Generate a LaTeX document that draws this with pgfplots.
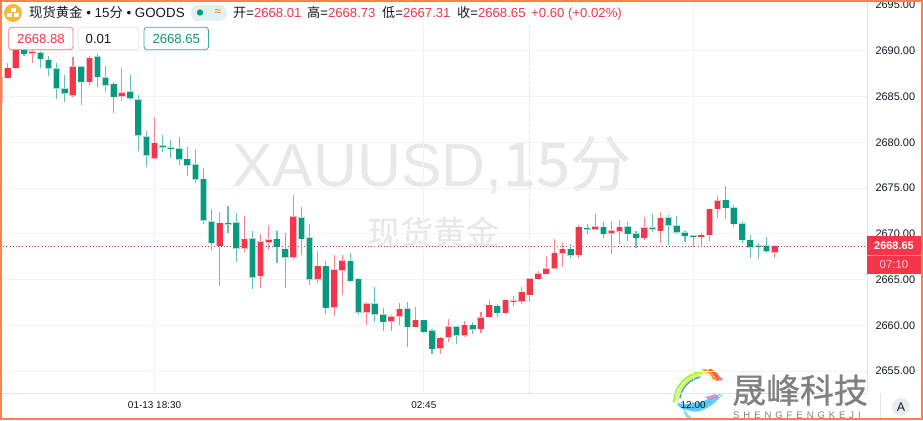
\documentclass[border=0pt]{standalone}
\usepackage{fontspec}
\usepackage{pgfplots}
\usepackage{pgfplotstable}
\pgfplotsset{compat=1.18}
\setmainfont{Liberation Sans}
\newfontfamily\cjk{Noto Sans CJK SC}
\newfontfamily\cjkb[FakeBold=0.8]{Noto Sans CJK SC}
\newfontfamily\cjkm[FakeBold=0.3]{Noto Sans CJK SC}
\definecolor{upc}{HTML}{F5354A}
\definecolor{dnc}{HTML}{089981}
\definecolor{gridc}{HTML}{F0F3FA}
\definecolor{linec}{HTML}{E0E3EB}
\definecolor{bord}{HTML}{FF7F50}
\definecolor{txt}{HTML}{131722}
\definecolor{gold}{HTML}{F0B93A}
\newcommand{\fs}[1]{\fontsize{#1}{#1}\selectfont}
\pgfplotstableread{
x lo bb bt hi
-1 2684.33 2684.33 2687.06 2687.06
0 2687.06 2687.06 2688.08 2688.70
1 2688.01 2688.15 2690.63 2690.81
3 2688.70 2689.76 2689.90 2690.27
8 2684.91 2685.17 2688.26 2689.32
10 2686.26 2686.62 2689.17 2689.43
14 2684.51 2685.02 2685.39 2688.08
18 2678.28 2678.28 2679.89 2682.76
26 2664.29 2668.70 2671.14 2672.42
29 2668.05 2668.45 2669.39 2671.94
31 2664.07 2665.42 2669.14 2669.94
32 2668.23 2669.10 2669.32 2670.96
35 2667.24 2667.46 2671.87 2674.20
38 2664.66 2665.02 2666.44 2668.15
40 2660.98 2661.96 2666.04 2667.64
41 2663.31 2666.04 2667.03 2667.64
44 2660.07 2661.42 2662.33 2662.54
47 2659.38 2660.43 2660.94 2661.09
48 2660.03 2661.01 2661.74 2662.44
50 2659.85 2659.85 2660.54 2662.00
53 2656.82 2657.52 2658.57 2658.72
54 2658.17 2658.68 2659.81 2660.69
56 2658.76 2658.94 2659.99 2660.47
58 2659.16 2659.63 2660.80 2661.45
59 2660.76 2660.94 2662.18 2662.76
61 2661.23 2661.38 2662.73 2662.87
62 2662.11 2662.58 2662.65 2663.20
63 2662.33 2662.62 2663.60 2664.15
64 2662.58 2663.35 2665.06 2665.06
65 2664.99 2665.09 2665.64 2665.90
66 2665.64 2665.64 2666.15 2667.57
67 2666.15 2666.22 2667.86 2669.43
68 2666.37 2667.86 2668.30 2668.96
70 2667.39 2667.72 2670.70 2670.96
72 2670.41 2670.49 2670.74 2672.13
74 2667.79 2670.09 2670.34 2671.36
75 2668.88 2670.30 2670.70 2671.51
78 2669.36 2669.58 2670.63 2671.83
80 2668.99 2670.34 2671.69 2672.34
85 2668.56 2669.68 2669.83 2670.05
86 2669.25 2669.90 2672.67 2672.67
87 2671.69 2672.74 2673.62 2674.09
94 2667.31 2668.01 2668.65 2668.73
}\upTable
\pgfplotstableread{
x lo bb bt hi
2 2689.47 2689.68 2690.16 2690.45
4 2688.12 2689.14 2689.76 2689.94
5 2687.21 2688.12 2688.96 2689.43
6 2684.69 2685.90 2688.05 2688.63
7 2684.44 2685.35 2685.82 2687.35
9 2684.04 2686.62 2688.26 2688.26
11 2686.01 2687.17 2689.32 2689.61
12 2685.53 2686.26 2687.03 2688.37
13 2683.24 2684.99 2686.33 2686.55
15 2684.62 2684.80 2685.53 2687.35
16 2679.08 2680.80 2684.62 2685.13
17 2677.33 2678.61 2680.58 2681.27
19 2678.90 2679.45 2679.59 2680.80
20 2678.32 2679.30 2679.38 2680.25
21 2677.52 2678.14 2679.30 2680.61
22 2676.32 2677.48 2678.14 2679.45
23 2675.51 2675.99 2677.52 2679.27
24 2671.11 2671.51 2675.95 2677.15
25 2668.23 2669.03 2671.32 2672.67
27 2670.12 2671.03 2671.14 2673.04
28 2666.92 2668.45 2671.21 2672.27
30 2663.97 2665.28 2669.47 2670.30
33 2666.81 2668.59 2669.39 2670.30
34 2664.07 2667.43 2668.30 2670.12
36 2667.68 2669.47 2671.72 2672.93
37 2664.40 2665.02 2669.58 2671.07
39 2661.23 2661.92 2666.44 2667.03
42 2664.73 2664.88 2666.99 2667.90
43 2661.16 2661.42 2665.02 2665.13
45 2660.36 2661.23 2662.33 2664.22
46 2659.38 2660.40 2661.12 2661.89
49 2657.66 2659.85 2661.82 2662.54
51 2659.19 2659.30 2660.54 2660.54
52 2656.82 2657.44 2659.38 2659.56
55 2657.95 2658.94 2659.81 2659.81
57 2659.01 2659.59 2659.99 2660.36
60 2660.87 2661.38 2662.07 2662.33
69 2667.39 2667.68 2668.30 2668.85
71 2670.01 2670.49 2670.60 2671.07
73 2669.50 2670.01 2670.70 2671.25
76 2669.21 2670.01 2670.74 2671.25
77 2668.48 2669.58 2669.98 2670.30
79 2670.16 2670.52 2670.63 2672.13
81 2668.74 2670.92 2671.72 2672.05
82 2670.01 2670.16 2670.85 2671.94
83 2669.07 2669.79 2670.12 2670.30
84 2668.56 2669.68 2669.79 2669.79
88 2671.65 2672.85 2673.66 2675.22
89 2670.78 2671.11 2672.82 2673.15
90 2669.03 2669.36 2671.07 2671.40
91 2667.35 2668.52 2669.28 2669.87
92 2667.24 2668.59 2668.70 2668.99
93 2667.94 2668.12 2668.66 2669.65
}\dnTable
\pgfplotsset{
  candle part/.style 2 args={draw=none,mark=none,forget plot,
    error bars/.cd,y dir=plus,y explicit,error mark=none,
    error bar style={line width=#1,color=#2,line cap=butt}},
}
\newcommand{\wicks}[2]{\addplot[candle part={1.1bp}{#2!62!white}] table[x=x,y=lo,y error plus expr=\thisrow{hi}-\thisrow{lo}] {#1};}
\newcommand{\edges}[2]{\addplot[candle part={7bp}{#2!35!white}] table[x=x,y expr=\thisrow{bb}-0.07,y error plus expr=\thisrow{bt}-\thisrow{bb}+0.14] {#1};}
\newcommand{\bodies}[2]{\addplot[candle part={5.6bp}{#2}] table[x=x,y=bb,y error plus expr=\thisrow{bt}-\thisrow{bb}] {#1};}
\begin{document}
\begin{tikzpicture}[x=1bp,y=1bp]
\path[use as bounding box] (0,0) rectangle (923,420);
\fill[white] (0,0) rectangle (923,420);
\begin{scope}[y=-1bp,yshift=420bp]
\node[anchor=center,text=black!9] at (431.5,165) {\fs{61}XAUUSD,{\cjkm 15分}};
\node[anchor=center,text=black!9] at (433,232) {\fs{33}\cjkm 现货黄金};
% logo, under the axis so that the tick label stays readable
\begin{scope}[line cap=round,opacity=0.85]
\draw[line width=1.8,green!60!yellow!90!white] (674,402) .. controls (674,384) and (690,371) .. (708,371);
\draw[line width=1.8,yellow!85!orange] (677,400) .. controls (678,385) and (692,374) .. (706,373);
\draw[line width=1.5,cyan!60!green] (680,398) .. controls (681,388) and (690,379) .. (700,377);
\draw[line width=2.5,orange!90!yellow] (704,370) .. controls (709,371) and (712,374) .. (714,379);
\draw[line width=2.5,red!55!orange] (710,370) .. controls (714,372) and (716,375) .. (717,379);
\fill[red!65!white] (716,372) -- (723,380) -- (716,381) -- cycle;
\fill[cyan!75!white] (677,403) .. controls (680,413) and (698,414) .. (722,393) .. controls (708,400) and (695,406) .. (677,403) -- cycle;
\fill[blue!30!cyan!75!white] (684,406) .. controls (692,418) and (710,410) .. (723,394) .. controls (712,402) and (698,408) .. (684,406) -- cycle;
\fill[cyan!55!white] (683,407) .. controls (686,413) and (690,417) .. (695,420) -- (689,420) .. controls (685,416) and (683,412) .. (683,407) -- cycle;
\fill[violet!45!white] (705,397) -- (716,394) -- (719,398) -- (708,400) -- cycle;
\end{scope}
\end{scope}
\begin{axis}[
  at={(0bp,27bp)},anchor=south west,scale only axis,width=867bp,height=393bp,
  xmin=-0.944,xmax=105.31,ymin=2652.60,ymax=2695.55,
  axis x line*=bottom,axis y line*=right,
  axis line style={linec,line width=1bp,-},
  tick style={draw=none},major tick length=0pt,
  xtick={18,51,84},xticklabels={01-13 18:30,02:45,12:00},
  ytick={2655,2660,2665,2670,2675,2680,2685,2690,2695},
  grid=major,grid style={gridc,line width=0.9bp},
  x tick label style={font=\fs{10},text=txt,yshift=-5bp},
  y tick label style={font=\fs{11},text=txt,xshift=5bp},
  /pgf/number format/assume math mode=true,
  yticklabel style={/pgf/number format/fixed,/pgf/number format/fixed zerofill,/pgf/number format/precision=2,/pgf/number format/1000 sep={}},
]
\addplot[linec,line width=1bp,dash pattern=on 4bp off 3bp,forget plot] coordinates {(64,2652.60)(64,2695.55)};
\addplot[upc!85!black,line width=1bp,dash pattern=on 1bp off 2.2bp,forget plot] coordinates {(-0.944,2668.65)(105.31,2668.65)};
\wicks{\upTable}{upc}
\wicks{\dnTable}{dnc}
\edges{\upTable}{upc}
\edges{\dnTable}{dnc}
\bodies{\upTable}{upc}
\bodies{\dnTable}{dnc}
\end{axis}
\begin{scope}[y=-1bp,yshift=420bp]
% header panel
\fill[white] (0,0) rectangle (214,49.6);
\fill[white] (214,0) rectangle (640,22);
\fill[gold] (13,13) circle (9);
\fill[white] (10.5,8.5) rectangle (15.5,12.5);
\fill[white] (7,13.5) rectangle (12.3,17.5);
\fill[white] (13.7,13.5) rectangle (19,17.5);
\node[anchor=base west,inner sep=0,text=txt] at (29,17.5) {\fs{13.4}{\cjk 现货黄金} • 15{\cjk 分} • GOODS};
\fill[dnc!13!white,rounded corners=7.5] (191,5) rectangle (227,21);
\fill[dnc] (200,12.5) circle (3.2);
\node[inner sep=0,text=orange!85!red] at (218,12.5) {\fs{12}≈};
\newcommand{\hd}[3]{\node[anchor=base west,inner sep=0,text=txt] at (#1,17.5) {\fs{13.2}{\cjk #2}=\textcolor{upc}{#3}};}
\hd{233}{开}{2668.01}
\hd{307}{高}{2668.73}
\hd{382}{低}{2667.31}
\hd{457}{收}{2668.65}
\node[anchor=base west,inner sep=0,text=upc] at (531,17.5) {\fs{13.2}+0.60 (+0.02\%)};
\draw[upc!70!white,fill=white,line width=0.8,rounded corners=3] (8.7,27.3) rectangle (73,49.7);
\node[text=upc,inner sep=0] at (41,38.7) {\fs{13.2}2668.88};
\draw[linec,fill=white,line width=0.8,rounded corners=3] (78,27.3) rectangle (139,49.7);
\node[anchor=west,text=txt,inner sep=0] at (85.5,38.7) {\fs{13.2}0.01};
\draw[dnc!80!white,fill=white,line width=0.8,rounded corners=3] (144,27.3) rectangle (208.5,49.7);
\node[text=dnc,inner sep=0] at (176.3,38.7) {\fs{13.2}2668.65};
% price tag
\fill[upc] (867,236) rectangle (921,274);
\draw[white,opacity=0.4,line width=0.6] (867,255.7) -- (921,255.7);
\node[text=white,inner sep=0] at (894,246) {\fs{11}\bfseries 2668.65};
\node[text=white,opacity=0.75,inner sep=0] at (894,264.5) {\fs{11.5}07:10};
% bottom right
\draw[linec,line width=0.8] (880,393) -- (880,420);
\fill[linec!70!white] (901,407) circle (9);
\node[text=txt,inner sep=0] at (901,407) {\fs{12.5}A};
\node[anchor=base,text=black!50,inner sep=0] at (800,403) {\fs{34}\cjkb 晟峰科技};
\node[anchor=base,text=black!50,inner sep=0] at (797,418.6) {\fs{9.5}\addfontfeature{LetterSpace=42}SHENGFENGKEJI};
% border
\draw[bord,line width=2.6] (0.7,0.4) rectangle (922,419);
\end{scope}
\end{tikzpicture}
\end{document}
